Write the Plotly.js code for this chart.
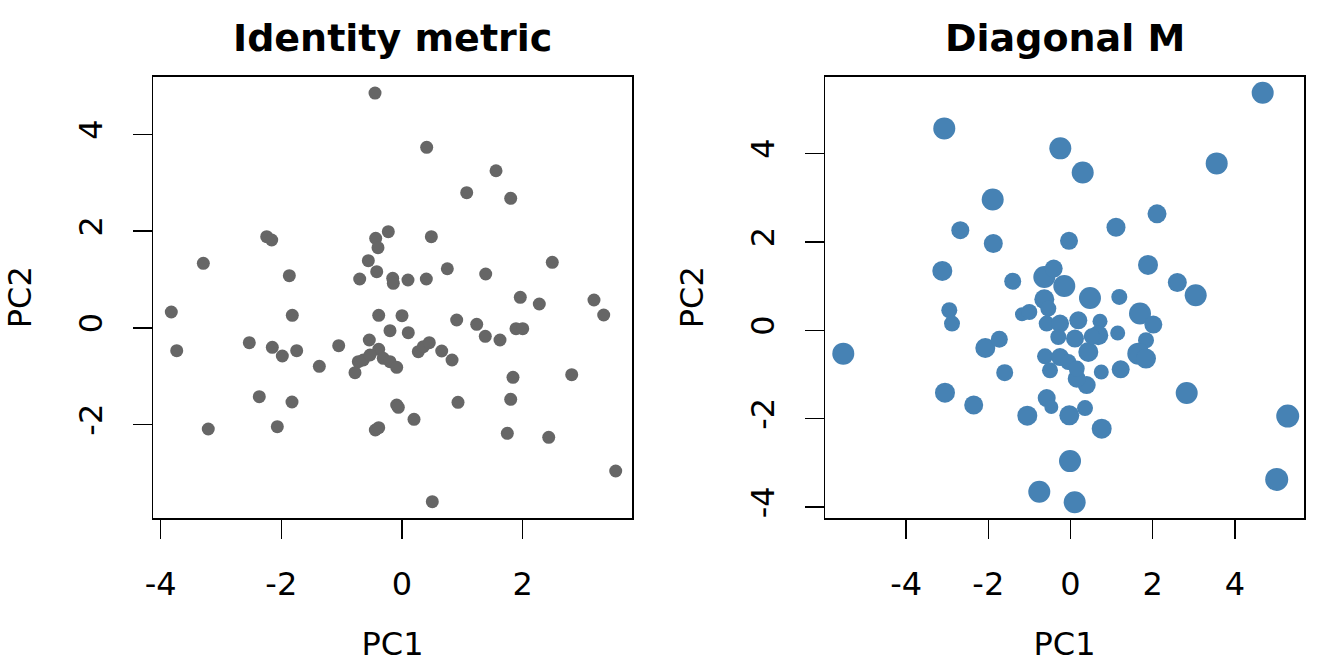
<!DOCTYPE html>
<html>
<head>
<meta charset="utf-8">
<script src="https://cdn.plot.ly/plotly-3.0.1.min.js"></script>
<style>html,body{margin:0;padding:0;background:#fff;}#chart{width:1344px;height:672px;}</style>
</head>
<body>
<div id="chart"></div>
<script>
// ---- Left panel: Identity metric ----
const identityPC1 = [-0.447,0.409,1.558,1.072,1.801,-2.242,-2.159,-0.227,-0.436,0.486,-0.398,-3.292,2.490,-0.558,0.751,-1.867,1.387,-0.419,-0.701,-0.154,-0.144,0.099,0.403,1.960,2.275,3.181,3.342,-3.823,-1.818,-0.386,0.000,0.906,1.238,-0.199,0.104,1.380,1.624,1.889,2.000,-3.733,-2.530,-2.149,-1.983,-1.745,-1.049,-1.370,-0.542,-0.386,-0.724,-0.641,-0.530,-0.779,-0.310,-0.199,-0.088,0.270,0.353,0.452,0.658,0.829,1.839,2.812,-2.365,-1.823,-0.088,-0.061,0.199,0.928,1.801,-3.210,-2.066,-0.442,-0.386,1.745,2.431,3.541,0.502];
const identityPC2 = [4.856,3.733,3.249,2.794,2.678,1.884,1.816,1.988,1.851,1.884,1.657,1.334,1.355,1.388,1.222,1.078,1.113,1.160,1.009,1.024,0.920,0.989,1.009,0.631,0.492,0.575,0.265,0.327,0.259,0.259,0.250,0.161,0.072,-0.060,-0.101,-0.176,-0.252,-0.019,-0.019,-0.474,-0.308,-0.403,-0.583,-0.474,-0.370,-0.796,-0.252,-0.445,-0.701,-0.666,-0.563,-0.929,-0.631,-0.701,-0.817,-0.494,-0.391,-0.308,-0.480,-0.666,-1.024,-0.970,-1.425,-1.535,-1.597,-1.644,-1.892,-1.541,-1.479,-2.093,-2.046,-2.114,-2.066,-2.182,-2.265,-2.962,-3.597];

// ---- Right panel: Diagonal M ----
const diagPC1 = [-3.071,-0.248,-1.893,-2.681,-1.878,-0.036,-3.119,-1.406,-0.637,-0.409,-0.151,-0.637,4.676,0.297,3.557,2.105,1.107,1.886,2.599,3.046,0.474,1.187,-5.528,-2.949,-2.883,-2.073,-1.732,-1.601,-3.054,-2.355,-1.051,-0.579,-0.467,-0.759,-0.012,0.102,-1.180,-1.002,-0.540,-0.579,-0.255,-0.297,-0.620,-0.499,-0.255,1.691,2.015,1.148,1.837,1.650,1.837,1.221,0.749,0.394,0.151,2.827,5.285,5.017,0.353,-0.029,0.759,0.190,0.718,0.676,0.433,0.109,-0.054,0.151,0.516];
const diagPC2 = [4.568,4.116,2.960,2.265,1.964,2.023,1.343,1.110,1.207,1.397,1.003,0.702,5.375,3.572,3.776,2.634,2.333,1.479,1.080,0.793,0.732,0.754,-0.528,0.453,0.152,-0.401,-0.204,-0.958,-1.411,-1.692,-1.932,-1.533,-1.737,-3.653,-2.960,-3.889,0.362,0.414,0.491,0.152,0.152,-0.152,-0.589,-0.906,-0.605,0.378,0.129,-0.061,-0.226,-0.528,-0.641,-0.883,-0.944,-1.239,-1.094,-1.420,-1.941,-3.375,-1.760,-1.925,-2.226,0.226,0.204,-0.113,-0.491,-0.188,-0.718,-0.867,-0.136];
const diagSize = [22,22,22,18,19,18,20,17,22,18,22,20,22,22,22,19,19,20,19,22,22,16,22,16,16,20,17,17,20,19,20,18,14,22,22,22,14,16,16,16,18,16,16,16,18,22,18,15,16,22,20,18,15,18,18,22,23,23,16,20,20,18,15,20,20,18,16,16,16];

// ---- Tick labels (R style hyphen minus) ----
const leftXTicks = [-4,-2,0,2];
const leftXLabels = ['-4','-2','0','2'];
const leftYTicks = [-2,0,2,4];
const leftYLabels = ['-2','0','2','4'];
const rightXTicks = [-4,-2,0,2,4];
const rightXLabels = ['-4','-2','0','2','4'];
const rightYTicks = [-4,-2,0,2,4];
const rightYLabels = ['-4','-2','0','2','4'];

const titles = ['Identity metric','Diagonal M'];
const xTitle = 'PC1';
const yTitle = 'PC2';

const FONT = 'DejaVu Sans, Liberation Sans, sans-serif';

const traces = [
  {x: identityPC1, y: identityPC2, type:'scatter', mode:'markers', xaxis:'x', yaxis:'y',
   marker:{color:'#666666', size:13, opacity:1, line:{width:0}}, hoverinfo:'skip'},
  {x: diagPC1, y: diagPC2, type:'scatter', mode:'markers', xaxis:'x2', yaxis:'y2',
   marker:{color:'#4682B4', size:diagSize, sizemode:'diameter', opacity:1, line:{width:0}}, hoverinfo:'skip'}
];

function axisBase(){
  return {
    showgrid:false, zeroline:false, showline:true, mirror:true,
    linecolor:'#000', linewidth:1.5,
    ticks:'outside', ticklen:19, tickwidth:1.5, tickcolor:'#000',
    tickfont:{family:FONT, size:32, color:'#000'},
    fixedrange:true
  };
}

const yDom = [1-518/672, 1-76.5/672];

const layout = {
  width:1344, height:672,
  margin:{l:0,r:0,t:0,b:0},
  paper_bgcolor:'#fff', plot_bgcolor:'#fff',
  showlegend:false,
  font:{family:FONT, color:'#000'},
  xaxis: Object.assign(axisBase(), {
    domain:[153/1344, 632/1344], range:[-4.126, 3.811], anchor:'y',
    tickmode:'array', tickvals:leftXTicks, ticktext:leftXLabels,
    ticklabelstandoff:18,
    title:{text:xTitle, font:{family:FONT,size:32,color:'#000'}, standoff:30}
  }),
  yaxis: Object.assign(axisBase(), {
    domain:yDom, range:[-3.934, 5.198], anchor:'x',
    tickmode:'array', tickvals:leftYTicks, ticktext:leftYLabels,
    tickangle:-90, ticklabelstandoff:18,
    title:{text:yTitle, font:{family:FONT,size:32,color:'#000'}, standoff:30}
  }),
  xaxis2: Object.assign(axisBase(), {
    domain:[825/1344, 1304/1344], range:[-5.973, 5.681], anchor:'y2',
    tickmode:'array', tickvals:rightXTicks, ticktext:rightXLabels,
    ticklabelstandoff:18,
    title:{text:xTitle, font:{family:FONT,size:32,color:'#000'}, standoff:30}
  }),
  yaxis2: Object.assign(axisBase(), {
    domain:yDom, range:[-4.247, 5.742], anchor:'x2',
    tickmode:'array', tickvals:rightYTicks, ticktext:rightYLabels,
    tickangle:-90, ticklabelstandoff:18,
    title:{text:yTitle, font:{family:FONT,size:32,color:'#000'}, standoff:30}
  }),
  annotations:[
    {text:'<b>'+titles[0]+'</b>', xref:'paper', yref:'paper', x:(153+632)/2/1344, y:1-38/672,
     xanchor:'center', yanchor:'middle', showarrow:false, font:{family:FONT, size:38, color:'#000'}},
    {text:'<b>'+titles[1]+'</b>', xref:'paper', yref:'paper', x:(825+1304)/2/1344, y:1-38/672,
     xanchor:'center', yanchor:'middle', showarrow:false, font:{family:FONT, size:38, color:'#000'}}
  ]
};

Plotly.newPlot('chart', traces, layout, {staticPlot:true, displayModeBar:false});
</script>
</body>
</html>
